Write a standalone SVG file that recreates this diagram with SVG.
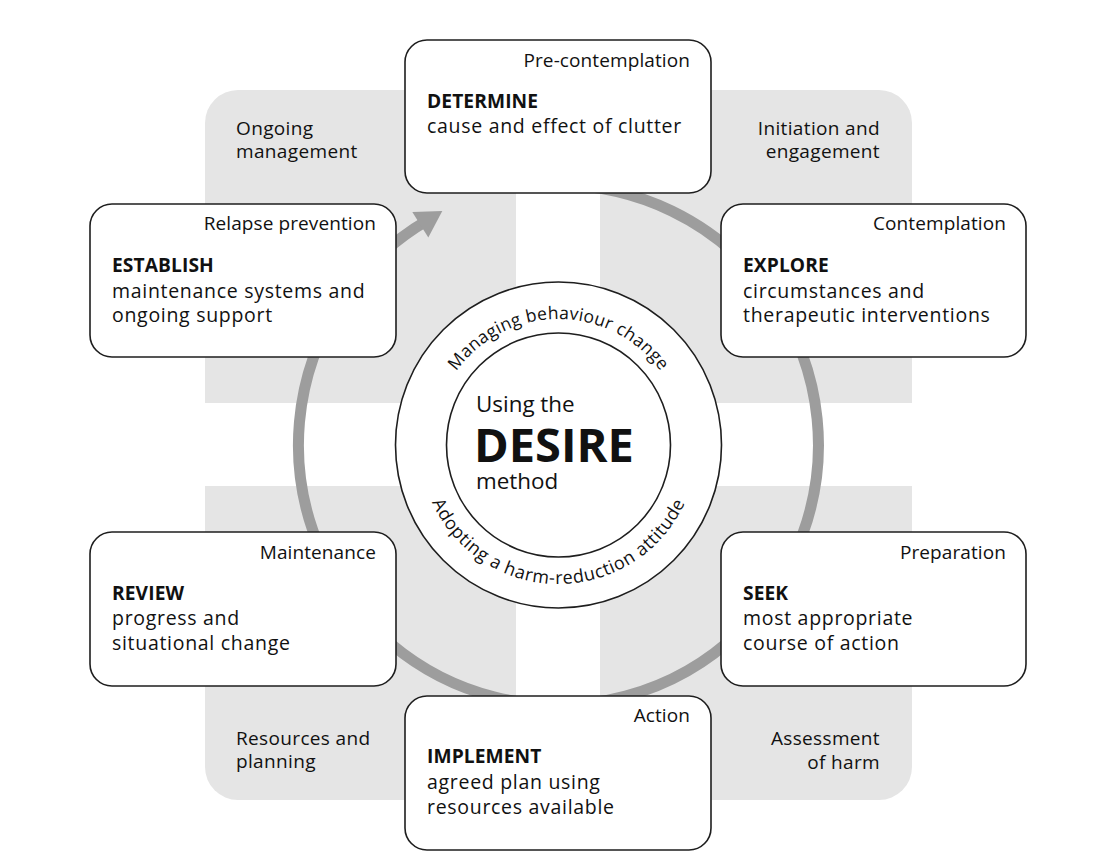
<svg xmlns="http://www.w3.org/2000/svg" width="1113" height="865" viewBox="0 0 1113 865">
<style>
.q{fill:#e5e5e5}
.box{fill:#fff;stroke:#1e1e1e;stroke-width:1.6}
.t{font-family:"Open Sans","Noto Sans",sans-serif;font-size:19.5px;letter-spacing:0.7px;fill:#111}
.lb{font-size:19px;letter-spacing:0.1px}
.ql{font-size:19px;letter-spacing:0.35px}
.b{font-weight:700;font-size:19.2px;letter-spacing:0.1px}
.r{text-anchor:end}
.ring{fill:none;stroke:#9d9d9d;stroke-width:11}
.c{fill:#fff;stroke:#1e1e1e;stroke-width:1.6}
.arc{font-family:"Open Sans","Noto Sans",sans-serif;font-size:17.5px;fill:#111}
</style>
<defs>
<path id="topArc" d="M432.5,445 A126,126 0 0 1 684.5,445"/>
<path id="botArc" d="M419.5,445 A139,139 0 0 0 697.5,445"/>
</defs>
<rect width="1113" height="865" fill="#fff"/>
<g id="quadrants">
<path class="q" d="M205,403 V123 A33,33 0 0 1 238,90 H516 V403 Z"/>
<path class="q" d="M600,90 H879 A33,33 0 0 1 912,123 V403 H600 Z"/>
<path class="q" d="M205,486 H516 V800 H238 A33,33 0 0 1 205,767 Z"/>
<path class="q" d="M600,486 H912 V767 A33,33 0 0 1 879,800 H600 Z"/>
<text class="t ql" x="236" y="135">Ongoing</text>
<text class="t ql" x="236" y="158">management</text>
<text class="t ql r" x="880" y="135">Initiation and</text>
<text class="t ql r" x="880" y="158">engagement</text>
<text class="t ql" x="236" y="745">Resources and</text>
<text class="t ql" x="236" y="768">planning</text>
<text class="t ql r" x="880" y="745">Assessment</text>
<text class="t ql r" x="880" y="769">of harm</text>
</g>
<g id="connectors">
<path class="ring" d="M558.5,185 A260,260 0 1 1 428.5,219.8"/>
<polygon points="442.3,211 428.3,237.5 412.3,212.1" fill="#9d9d9d"/>
</g>
<g id="determine">
<rect class="box" x="405" y="40" width="306" height="153" rx="22"/>
<text class="t lb r" x="690" y="67">Pre-contemplation</text>
<text class="t b" x="427" y="108">DETERMINE</text>
<text class="t" x="427" y="133">cause and effect of clutter</text>
</g>
<g id="establish">
<rect class="box" x="90" y="204" width="306" height="153" rx="22"/>
<text class="t lb r" x="376" y="230">Relapse prevention</text>
<text class="t b" x="112" y="272">ESTABLISH</text>
<text class="t" x="112" y="298">maintenance systems and</text>
<text class="t" x="112" y="322">ongoing support</text>
</g>
<g id="explore">
<rect class="box" x="721" y="204" width="305" height="153" rx="22"/>
<text class="t lb r" x="1006" y="230">Contemplation</text>
<text class="t b" x="743" y="272">EXPLORE</text>
<text class="t" x="743" y="298">circumstances and</text>
<text class="t" x="743" y="322">therapeutic interventions</text>
</g>
<g id="review">
<rect class="box" x="90" y="532" width="306" height="154" rx="22"/>
<text class="t lb r" x="376" y="559">Maintenance</text>
<text class="t b" x="112" y="600">REVIEW</text>
<text class="t" x="112" y="625">progress and</text>
<text class="t" x="112" y="650">situational change</text>
</g>
<g id="seek">
<rect class="box" x="721" y="532" width="305" height="154" rx="22"/>
<text class="t lb r" x="1006" y="559">Preparation</text>
<text class="t b" x="743" y="600">SEEK</text>
<text class="t" x="743" y="625">most appropriate</text>
<text class="t" x="743" y="650">course of action</text>
</g>
<g id="implement">
<rect class="box" x="405" y="696" width="306" height="154" rx="22"/>
<text class="t lb r" x="690" y="722">Action</text>
<text class="t b" x="427" y="763">IMPLEMENT</text>
<text class="t" x="427" y="789">agreed plan using</text>
<text class="t" x="427" y="814">resources available</text>
</g>
<g id="center">
<circle class="c" cx="558.5" cy="445" r="163"/>
<circle class="c" cx="558.5" cy="445" r="112"/>
<text class="arc" style="letter-spacing:0.3px"><textPath href="#topArc" startOffset="50%" text-anchor="middle">Managing behaviour change</textPath></text>
<text class="arc" style="font-size:18px;letter-spacing:0.6px"><textPath href="#botArc" startOffset="50%" text-anchor="middle">Adopting a harm-reduction attitude</textPath></text>
<text class="t" x="476" y="412" style="font-size:22.4px;letter-spacing:0">Using the</text>
<text class="t" x="474" y="462" style="font-size:47px;font-weight:700;letter-spacing:0">DESIRE</text>
<text class="t" x="476" y="489" style="font-size:22.4px;letter-spacing:0">method</text>
</g>
</svg>
